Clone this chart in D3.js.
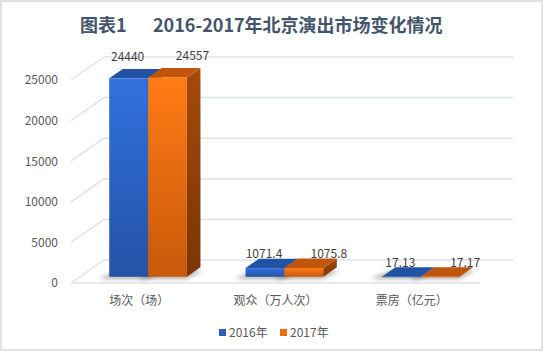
<!DOCTYPE html>
<html>
<head>
<meta charset="utf-8">
<script src="https://cdn.jsdelivr.net/npm/d3@7"></script>
<style>
  body { margin: 0; background: #fff; }
  text { font-family: "Noto Sans CJK SC", "Noto Sans", sans-serif; }
</style>
</head>
<body>
<div id="chart"></div>
<script>
var categories = ["场次（场）", "观众（万人次）", "票房（亿元）"];
var seriesNames = ["2016年", "2017年"];
var values2016 = [24440, 1071.4, 17.13];
var values2017 = [24557, 1075.8, 17.17];
var yTicks = [0, 5000, 10000, 15000, 20000, 25000];

var width = 544,
    height = 352,
    plot = {left: 71, right: 480, top: 80, bottom: 283},
    depth = {x: 33, y: -23},
    barDepth = [0.27, 0.68];

var models = categories.map((c, i) => ({name: c, values: [values2016[i], values2017[i]]}));

var svg = d3.select("#chart")
    .append("svg")
    .attr("width", width)
    .attr("height", height);

var defs = svg.append("defs");

function grad(id, top, bottom) {
    var g = defs.append("linearGradient").attr("id", id)
        .attr("x1", 0).attr("y1", 0).attr("x2", 0).attr("y2", 1);
    g.append("stop").attr("offset", "0%").attr("stop-color", top);
    g.append("stop").attr("offset", "100%").attr("stop-color", bottom);
}
grad("front0", "#3170dc", "#2553a6");
grad("front1", "#ff7b15", "#c8590b");
grad("side0", "#1f4a94", "#183a78");
grad("side1", "#a64a0a", "#7a3506");

defs.append("filter").attr("id", "blur")
    .attr("x", "-50%").attr("y", "-50%").attr("width", "200%").attr("height", "200%")
    .append("feGaussianBlur").attr("stdDeviation", 2);

var topColors = ["#2152a3", "#c0560c"];

// chart border
svg.append("rect")
    .attr("x", 1).attr("y", 1)
    .attr("width", width - 3).attr("height", height - 3)
    .attr("fill", "#fff")
    .attr("stroke", "#d9d9d9")
    .attr("stroke-width", 1.5);

// title
var title = svg.append("text")
    .attr("y", 32)
    .attr("fill", "#44546a")
    .attr("font-size", 18)
    .attr("font-weight", "bold");
title.append("tspan").attr("x", 80).text("图表1");
title.append("tspan").attr("x", 153).text("2016-2017年北京演出市场变化情况");

var xScale0 = d3.scaleBand().domain(categories)
    .range([plot.left, plot.right])
    .paddingInner(0.43).paddingOuter(0.215);
var xScale1 = d3.scaleBand().domain([0, 1]).range([0, xScale0.bandwidth()]);
var yScale = d3.scaleLinear().domain([0, 25000]).range([plot.bottom, plot.top]);

// project a point (front x, value, depth fraction)
function pt(x, v, d) {
    return [x + d * depth.x, yScale(v) + d * depth.y];
}
function poly(pts) {
    return "M" + pts.map(p => p.join(",")).join("L") + "Z";
}

var grid = "#dfe2e8";

// back wall grid lines
svg.append("g").selectAll("line.back")
    .data(yTicks)
    .enter().append("line")
    .attr("x1", plot.left + depth.x).attr("x2", plot.right + depth.x)
    .attr("y1", d => yScale(d) + depth.y).attr("y2", d => yScale(d) + depth.y)
    .attr("stroke", grid).attr("stroke-width", 1.5);

// left wall lines
svg.append("g").selectAll("line.side")
    .data(yTicks)
    .enter().append("line")
    .attr("x1", plot.left).attr("y1", d => yScale(d))
    .attr("x2", plot.left + depth.x).attr("y2", d => yScale(d) + depth.y)
    .attr("stroke", grid).attr("stroke-width", 1.5);

// floor front edge
svg.append("line")
    .attr("x1", plot.left).attr("x2", plot.right)
    .attr("y1", yScale(0)).attr("y2", yScale(0))
    .attr("stroke", grid).attr("stroke-width", 1.5);

// Add the Y Axis
var yAxis = d3.axisLeft(yScale).tickValues(yTicks).tickFormat(d3.format("d"))
    .tickSize(0).tickPadding(13);
svg.append("g")
    .attr("class", "y axis")
    .attr("transform", `translate(${plot.left},0)`)
    .call(yAxis)
    .call(g => g.select(".domain").remove())
    .call(g => g.selectAll("text")
        .attr("fill", "#595959")
        .attr("font-size", 12)
        .style("font-family", "'Noto Sans CJK SC', sans-serif"));

// bars
var d0 = barDepth[0], d1 = barDepth[1];
models.forEach(m => {
    var g = svg.append("g").attr("class", "model_name");
    m.values.forEach((v, s) => {
        var x0 = xScale0(m.name) + xScale1(s),
            x1 = x0 + xScale1.bandwidth();
        // shadow on the floor
        g.append("path")
            .attr("d", poly([pt(x0 - 8, 0, d0 - 0.1), pt(x1 + 2, 0, d0 - 0.1), pt(x1 + 8, 0, d1 - 0.15), pt(x0, 0, d1 - 0.15)]))
            .attr("fill", "#000").attr("opacity", 0.3)
            .attr("filter", "url(#blur)");
    });
    m.values.forEach((v, s) => {
        var x0 = xScale0(m.name) + xScale1(s),
            x1 = x0 + xScale1.bandwidth();
        g.append("path")
            .attr("d", poly([pt(x1, 0, d0), pt(x1, v, d0), pt(x1, v, d1), pt(x1, 0, d1)]))
            .attr("fill", `url(#side${s})`);
        g.append("path")
            .attr("d", poly([pt(x0, v, d0), pt(x1, v, d0), pt(x1, v, d1), pt(x0, v, d1)]))
            .attr("fill", topColors[s]);
        var f0 = pt(x0, v, d0), f1 = pt(x1, 0, d0);
        g.append("rect")
            .attr("x", f0[0]).attr("y", f0[1])
            .attr("width", f1[0] - f0[0])
            .attr("height", Math.max(f1[1] - f0[1], 0.5))
            .attr("fill", `url(#front${s})`);
    });
    // value labels
    m.values.forEach((v, s) => {
        var x0 = xScale0(m.name) + xScale1(s),
            x1 = x0 + xScale1.bandwidth(),
            p = pt((x0 + x1) / 2, v, d0);
        g.append("text")
            .attr("x", p[0] - 1 + s * 26)
            .attr("y", yScale(v) - 16 - 8 * (yScale(0) - yScale(v)) / (yScale(0) - yScale(25000)))
            .attr("text-anchor", "middle")
            .attr("fill", "#404040")
            .attr("font-size", 12)
            .text(v);
    });
});

// category labels
svg.append("g").selectAll("text")
    .data(categories)
    .enter().append("text")
    .attr("x", d => xScale0(d) + xScale0.bandwidth() / 2)
    .attr("y", 305)
    .attr("text-anchor", "middle")
    .attr("fill", "#595959")
    .attr("font-size", 12)
    .text(d => d);

// legend
var legendX = [219, 280];
var colors = ["#2a5cbc", "#f06a10"];
var legend = svg.append("g").selectAll("g")
    .data(seriesNames)
    .enter().append("g")
    .attr("transform", (d, i) => `translate(${legendX[i]},329)`);
legend.append("rect")
    .attr("width", 7).attr("height", 7)
    .attr("fill", (d, i) => colors[i]);
legend.append("text")
    .attr("x", 10).attr("y", 8)
    .attr("fill", "#595959")
    .attr("font-size", 12)
    .text(d => d);
</script>
</body>
</html>
